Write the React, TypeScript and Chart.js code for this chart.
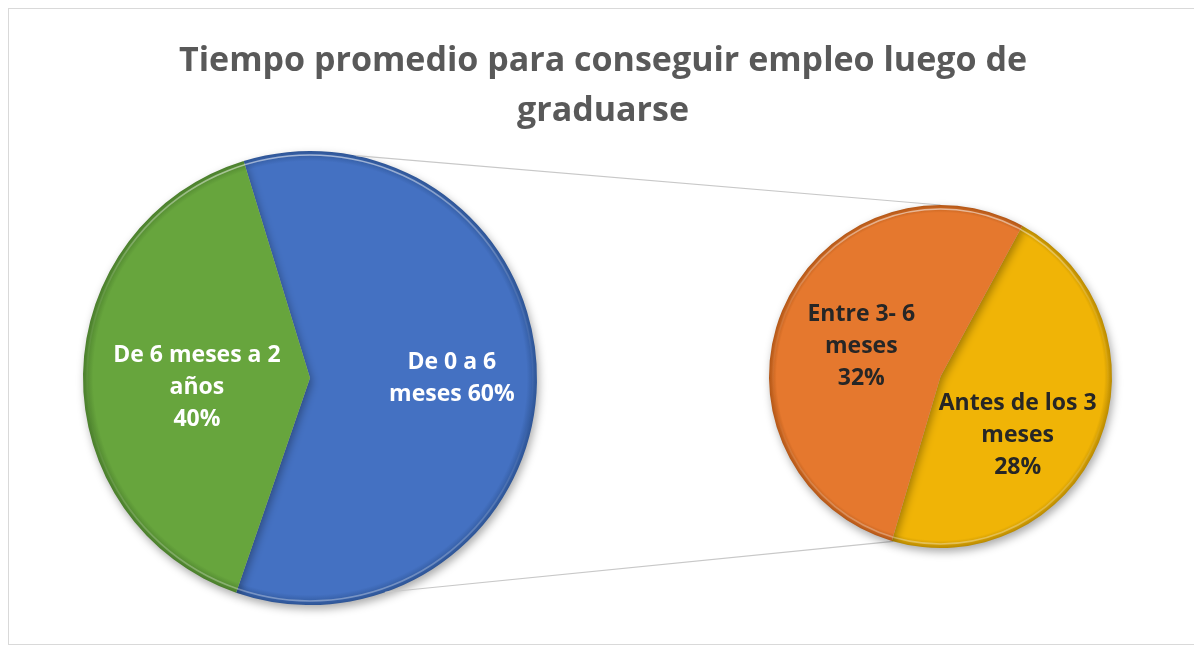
import React, { useEffect, useRef } from 'react';
import { Chart, registerables } from 'chart.js';

Chart.register(...registerables);

// ---------- data ----------
const TITLE_LINES = ['Tiempo promedio para conseguir empleo luego de', 'graduarse'];

const mainCategories = ['De 0 a 6 meses', 'De 6 meses a 2 años'];
const mainValues = [60, 40];
const mainLabelText = [['De 0 a 6', 'meses ' + mainValues[0] + '%'], ['De 6 meses a 2', 'años', mainValues[1] + '%']];

const subCategories = ['Antes de los 3 meses', 'Entre 3- 6 meses'];
const subValues = [28, 32];
const subLabelText = [['Antes de los 3', 'meses', subValues[0] + '%'], ['Entre 3- 6', 'meses', subValues[1] + '%']];

// ---------- styles ----------
const W = 1176;
const H = 635;
const FONT = '"Open Sans", "Noto Sans", sans-serif';

const mainColors = ['#4471C2', '#67A53D'];
const mainDark = ['#2E5596', '#4A7E2C'];
const subColors = ['#F0B406', '#E5782E'];
const subDark = ['#B98A00', '#B25616'];

const mainPadding = { left: 74, top: 142, right: 648, bottom: 39 };
const subPadding = { left: 760, top: 196, right: 73, bottom: 96 };
const mainRotation = -17;
const subRotation = 28.5;

// label placement: [fraction of radius, angle tweak in degrees]
const mainLabelPos = [[0.625, -1], [0.5, -6]];
const subLabelPos = [[0.567, 15], [0.493, -2]];

// connector angles (degrees clockwise from top)
const connMain = [11.7, 160.7];
const connSub = [0, 196];

function bevel(base: string[], dark: string[]) {
  return (ctx: any) => {
    const chart = ctx.chart;
    const a = chart.chartArea;
    const i = ctx.dataIndex ?? 0;
    if (!a) return base[i];
    const cx = (a.left + a.right) / 2;
    const cy = (a.top + a.bottom) / 2;
    const r = Math.min(a.right - a.left, a.bottom - a.top) / 2;
    const g = chart.ctx.createRadialGradient(cx, cy, 0, cx, cy, r);
    g.addColorStop(0, base[i]);
    g.addColorStop(0.955, base[i]);
    g.addColorStop(1, dark[i]);
    return g;
  };
}

const shadowPlugin = {
  id: 'pieShadow',
  beforeDatasetDraw(chart: any) {
    const c = chart.ctx;
    c.save();
    c.shadowColor = 'rgba(0,0,0,0.33)';
    c.shadowBlur = 9;
    c.shadowOffsetX = 2;
    c.shadowOffsetY = 4;
  },
  afterDatasetDraw(chart: any) {
    chart.ctx.restore();
  },
};

const highlightPlugin = {
  id: 'rimHighlight',
  afterDatasetsDraw(chart: any) {
    const arc = chart.getDatasetMeta(0).data[0];
    if (!arc) return;
    const { x, y, outerRadius } = arc.getProps(['x', 'y', 'outerRadius'], true);
    const c = chart.ctx;
    c.save();
    const g = c.createLinearGradient(x, y - outerRadius, x, y + outerRadius);
    g.addColorStop(0, 'rgba(255,255,255,0.55)');
    g.addColorStop(0.3, 'rgba(255,255,255,0.1)');
    g.addColorStop(0.6, 'rgba(255,255,255,0.0)');
    g.addColorStop(0.9, 'rgba(255,255,255,0.25)');
    g.addColorStop(1, 'rgba(255,255,255,0.35)');
    c.strokeStyle = g;
    c.lineWidth = 1.6;
    c.beginPath();
    c.arc(x, y, outerRadius - 4, 0, Math.PI * 2);
    c.stroke();
    c.restore();
  },
};

function labelPlugin(lines: string[][], pos: number[][], color: string) {
  return {
    id: 'sliceLabels',
    afterDatasetsDraw(chart: any) {
      const c = chart.ctx;
      const meta = chart.getDatasetMeta(0);
      c.save();
      c.font = 'bold 23px ' + FONT;
      c.fillStyle = color;
      c.textAlign = 'center';
      c.textBaseline = 'middle';
      const lh = 32;
      meta.data.forEach((arc: any, i: number) => {
        const p = arc.getProps(['x', 'y', 'startAngle', 'endAngle', 'outerRadius'], true);
        const mid = (p.startAngle + p.endAngle) / 2 + (pos[i][1] * Math.PI) / 180;
        const px = p.x + Math.cos(mid) * p.outerRadius * pos[i][0];
        const py = p.y + Math.sin(mid) * p.outerRadius * pos[i][0];
        const ls = lines[i];
        ls.forEach((t, k) => {
          c.fillText(t, px, py + (k - (ls.length - 1) / 2) * lh);
        });
      });
      c.restore();
    },
  };
}

const titlePlugin = {
  id: 'wideTitle',
  afterDraw(chart: any) {
    const c = chart.ctx;
    c.save();
    c.font = 'bold 34px ' + FONT;
    c.fillStyle = '#595959';
    c.textAlign = 'center';
    c.textBaseline = 'alphabetic';
    c.fillText(TITLE_LINES[0], 594, 62);
    c.fillText(TITLE_LINES[1], 594, 112);
    c.restore();
  },
};

function pt(arc: any, deg: number) {
  const p = arc.getProps(['x', 'y', 'outerRadius'], true);
  const a = ((deg - 90) * Math.PI) / 180;
  return [p.x + Math.cos(a) * p.outerRadius, p.y + Math.sin(a) * p.outerRadius];
}

export default function App() {
  const mainRef = useRef<HTMLCanvasElement>(null);
  const subRef = useRef<HTMLCanvasElement>(null);

  useEffect(() => {
    const mainChart = new Chart(mainRef.current!, {
      type: 'pie',
      data: {
        labels: mainCategories,
        datasets: [{ data: mainValues, backgroundColor: bevel(mainColors, mainDark), borderWidth: 0 }],
      },
      options: {
        responsive: false,
        animation: false,
        rotation: mainRotation,
        layout: { padding: mainPadding },
        plugins: { legend: { display: false }, tooltip: { enabled: false }, title: { display: false } },
      },
      plugins: [shadowPlugin, highlightPlugin, labelPlugin(mainLabelText, mainLabelPos, '#FFFFFF'), titlePlugin],
    });

    const connectorPlugin = {
      id: 'connectors',
      beforeDatasetsDraw(chart: any) {
        const mArc = mainChart.getDatasetMeta(0).data[0];
        const sArc = chart.getDatasetMeta(0).data[0];
        if (!mArc || !sArc) return;
        const c = chart.ctx;
        c.save();
        c.strokeStyle = '#C8C8C8';
        c.lineWidth = 1.2;
        for (let k = 0; k < 2; k++) {
          const a = pt(mArc, connMain[k]);
          const b = pt(sArc, connSub[k]);
          c.beginPath();
          c.moveTo(a[0], a[1]);
          c.lineTo(b[0], b[1]);
          c.stroke();
        }
        c.restore();
      },
    };

    const subChart = new Chart(subRef.current!, {
      type: 'pie',
      data: {
        labels: subCategories,
        datasets: [{ data: subValues, backgroundColor: bevel(subColors, subDark), borderWidth: 0 }],
      },
      options: {
        responsive: false,
        animation: false,
        rotation: subRotation,
        layout: { padding: subPadding },
        plugins: { legend: { display: false }, tooltip: { enabled: false }, title: { display: false } },
      },
      plugins: [connectorPlugin, shadowPlugin, highlightPlugin, labelPlugin(subLabelText, subLabelPos, '#262626')],
    });

    return () => {
      subChart.destroy();
      mainChart.destroy();
    };
  }, []);

  return (
    <div
      style={{
        position: 'fixed',
        left: 8,
        top: 8,
        width: 1200,
        height: H,
        borderTop: '1px solid #D9D9D9',
        borderLeft: '1px solid #D9D9D9',
        borderBottom: '1px solid #D9D9D9',
        background: '#FFFFFF',
      }}
    >
      <canvas ref={mainRef} width={W} height={H} style={{ position: 'absolute', left: 0, top: 0 }} />
      <canvas ref={subRef} width={W} height={H} style={{ position: 'absolute', left: 0, top: 0 }} />
    </div>
  );
}
